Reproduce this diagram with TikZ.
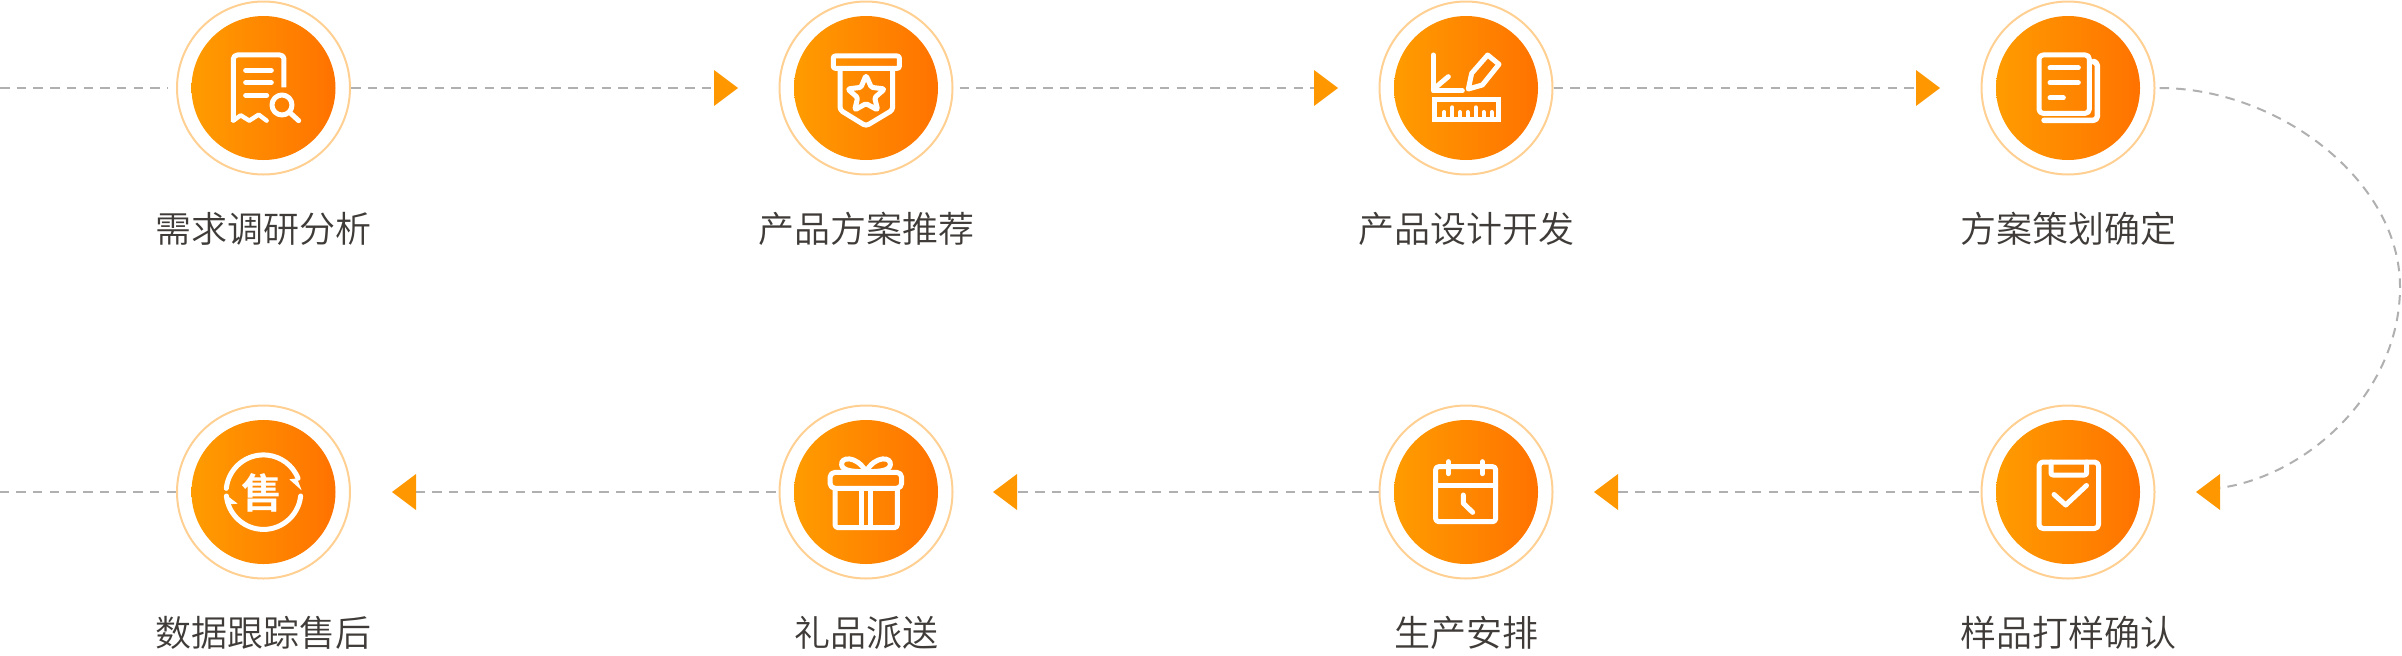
\documentclass[tikz,border=0pt]{standalone}
\usepackage{fontspec}
\newfontfamily\cjk{Noto Sans CJK SC DemiLight}
\newfontfamily\cjkb{Noto Sans CJK SC Bold}
\definecolor{ringc}{HTML}{FFD092}
\definecolor{gradl}{HTML}{FF9C00}
\definecolor{gradr}{HTML}{FF7200}
\definecolor{arrowc}{HTML}{FF9800}
\definecolor{dashc}{HTML}{B0B0B0}
\definecolor{textc}{HTML}{3F3B38}
\tikzset{
  ringnode/.style={circle,draw=ringc,line width=2pt,minimum size=173pt,inner sep=0pt,fill=white},
  disc/.style={circle,minimum size=144pt,inner sep=0pt,left color=gradl,right color=gradr},
  lbl/.style={font=\cjk\fontsize{36}{40}\selectfont,text=textc,inner sep=0pt},
  link/.style={draw=dashc,line width=2pt,dash pattern=on 9.5pt off 7.2pt},
  icon/.style={draw=white,line width=5pt,line cap=round,line join=round},
  head/.style={fill=arrowc},
}
\begin{document}
\begin{tikzpicture}[x=1pt,y=-1pt]
\useasboundingbox (0,0) rectangle (2402,656);
% ends of connectors
\coordinate (s0) at (0,88);
\coordinate (s1) at (0,492);
\coordinate (a1) at (714,88);
\coordinate (a2) at (1314,88);
\coordinate (a3) at (1916,88);
\coordinate (a4) at (2220,488);
\coordinate (a5) at (1618,492);
\coordinate (a6) at (1017,492);
\coordinate (a7) at (416,492);
% rings and discs
\foreach \n/\px/\py in {1/263.5/88,2/866/88,3/1466/88,4/2068/88,5/2068/492,6/1466/492,7/866/492,8/263.5/492}{
  \node[ringnode] (n\n) at (\px,\py) {};
  \node[disc] (d\n) at (\px,\py) {};
}
% labels
\node[lbl] (l1) at (263.5,229) {需求调研分析};
\node[lbl] (l2) at (866,229) {产品方案推荐};
\node[lbl] (l3) at (1466,229) {产品设计开发};
\node[lbl] (l4) at (2068,229) {方案策划确定};
\node[lbl] (l5) at (2068,633) {样品打样确认};
\node[lbl] (l6) at (1466,633) {生产安排};
\node[lbl] (l7) at (866,633) {礼品派送};
\node[lbl] (l8) at (263.5,633) {数据跟踪售后};
% connectors
\draw[link,shorten >=8pt] (s0) -- (n1.west);
\draw[link] (n1.east) -- (a1);
\draw[link,shorten <=6pt] (n2.east) -- (a2);
\draw[link] (n3.east) -- (a3);
\draw[link,shorten <=4pt] (n4.east) .. controls (2278,88) and (2400,180) .. (2400,287) .. controls (2400,390) and (2310,475) .. (a4);
\draw[link,shorten <=2pt] (n5.west) -- (a5);
\draw[link] (n6.west) -- (a6);
\draw[link,shorten <=3pt] (n7.west) -- (a7);
\draw[link] (n8.west) -- (s1);
% arrowheads
\foreach \a in {a1,a2,a3}{\fill[head,shift={(\a)}] (0,-18) -- (24,0) -- (0,18) -- cycle;}
\fill[head] (2220,474) -- (2196,492) -- (2220,510) -- cycle;
\foreach \a in {a5,a6,a7}{\fill[head,shift={(\a)}] (0,-18) -- (-24,0) -- (0,18) -- cycle;}
% icon 1: document and magnifier
\begin{scope}[shift={(200,30)},x=0.3333pt,y=-0.3333pt,icon]
\draw[rounded corners=4pt,line cap=butt] (100,276) -- (100,75) -- (252,75) -- (252,172);
\draw[line width=4.4pt] (100,272) -- (122,256) -- (148,272) -- (176,254) -- (200,272);
\draw (137,121) -- (214,121) (137,158) -- (214,158) (137,196) -- (200,196);
\draw (246,225) circle (30);
\draw (272,250) -- (296,272);
\end{scope}
% icon 2: pennant with star
\begin{scope}[shift={(810,30)},x=0.3333pt,y=-0.3333pt,icon]
\draw[rounded corners=2pt] (70,78) rectangle (268,115);
\draw[rounded corners=3pt] (90,118) -- (90,240) -- (168,288) -- (248,240) -- (248,118);
\draw[rounded corners=1.5pt] (168,136) -- (184,172) -- (224,177) -- (194,203) -- (203,240) -- (168,221) -- (134,240) -- (143,203) -- (113,177) -- (153,172) -- cycle;
\end{scope}
% icon 3: chart, pencil, ruler
\begin{scope}[shift={(1405,30)},x=0.3333pt,y=-0.3333pt,icon]
\draw (85,75) -- (85,183) -- (172,183);
\draw (85,178) -- (130,140);
\draw (248,75) -- (282,103) -- (232,165) -- (190,177) -- (200,130) -- cycle;
\draw[line join=miter] (87,208) rectangle (280,268);
\draw[line width=4pt] (118,268) -- (118,246) (142,268) -- (142,232) (165,268) -- (165,246) (188,268) -- (188,246) (212,268) -- (212,232) (236,268) -- (236,246) (260,268) -- (260,246);
\end{scope}
% icon 4: stacked pages
\begin{scope}[shift={(2010,30)},x=0.3333pt,y=-0.3333pt,icon]
\draw[rounded corners=4pt] (87,75) rectangle (238,250);
\draw[rounded corners=4pt,line width=5.5pt] (102,271) -- (262,271) -- (262,95) -- (254,95);
\draw (120,114) -- (205,114) (120,158) -- (205,158) (120,204) -- (160,204);
\end{scope}
% icon 5: clipboard with tick
\begin{scope}[icon]
\draw[rounded corners=4pt] (2039,462) rectangle (2098.5,528.5);
\draw[rounded corners=2pt] (2051,462) -- (2051,475) -- (2086.6,475) -- (2086.6,462);
\draw (2054,494.5) -- (2065.7,505) -- (2086.5,485.5);
\end{scope}
% icon 6: calendar with clock hands
\begin{scope}[shift={(1405,435)},x=0.3333pt,y=-0.3333pt,icon]
\draw[rounded corners=3pt] (92,95) rectangle (272,260);
\draw (92,150) -- (272,150);
\draw (130,80) -- (130,116) (232,80) -- (232,116);
\draw (175,180) -- (175,205) -- (203,232);
\end{scope}
% icon 7: gift
\begin{scope}[shift={(810,435)},x=0.3333pt,y=-0.3333pt,icon]
\draw[rounded corners=5pt] (60,112) rectangle (275,160);
\draw[rounded corners=3pt] (75,160) -- (75,278) -- (262,278) -- (262,160);
\draw (155,165) -- (155,272) (182,165) -- (182,272);
\draw (168,110) .. controls (140,60) and (90,65) .. (95,90) .. controls (98,108) and (130,110) .. (168,110);
\draw (168,110) .. controls (196,60) and (246,65) .. (241,90) .. controls (238,108) and (206,110) .. (168,110);
\end{scope}
% icon 8: after-sales cycle
\begin{scope}[shift={(200,435)},x=0.3333pt,y=-0.3333pt,icon]
\draw (79,160) arc[start angle=-174,end angle=-22,radius=112];
\fill[white,draw=none] (268,133) -- (291,130) -- (305,166) -- cycle;
\draw (302,183) arc[start angle=6,end angle=174,radius=112];
\fill[white,draw=none] (76,178) -- (113,206) -- (88,208) -- cycle;
\node[text=white,font=\cjkb\fontsize{41}{42}\selectfont,inner sep=0pt] (sale) at (185,174) {售};
\end{scope}
\end{tikzpicture}
\end{document}
